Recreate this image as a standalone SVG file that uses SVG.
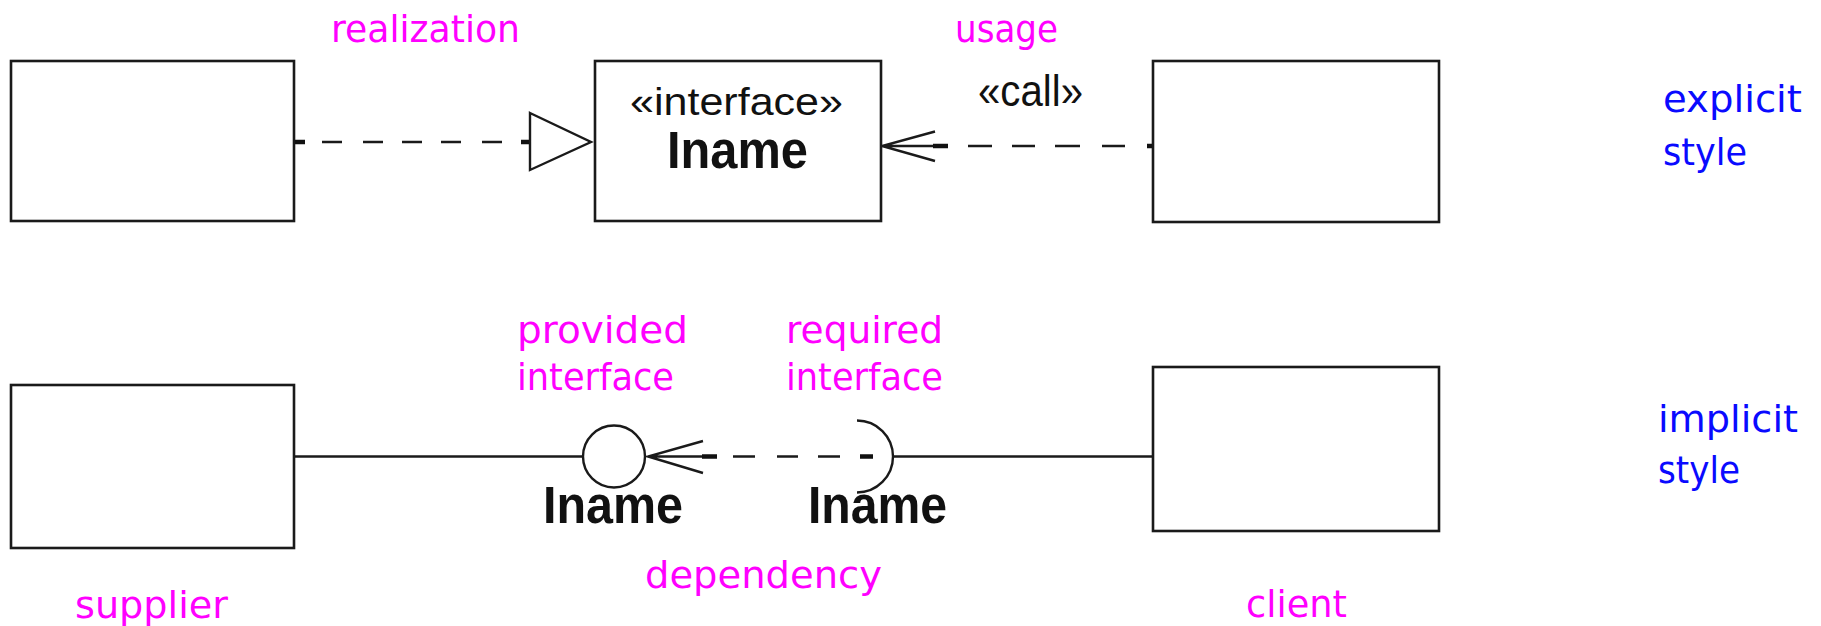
<svg xmlns="http://www.w3.org/2000/svg" width="1821" height="626" viewBox="0 0 1821 626">
<style>
  .box { fill: #fff; stroke: #1a1a1a; stroke-width: 2.6; }
  .ln { fill: none; stroke: #1a1a1a; stroke-width: 2.4; }
  .thick { fill: none; stroke: #111; stroke-width: 4.5; }
  .note { font-family: "DejaVu Sans", sans-serif; font-size: 38px; fill: #ff00ff; }
  .style { font-family: "DejaVu Sans", sans-serif; font-size: 38px; fill: #0a0aff; }
  .ster { font-family: "Liberation Sans", Arial, sans-serif; fill: #111; }
  .name { font-family: "Liberation Sans", Arial, sans-serif; font-weight: bold; font-size: 51px; fill: #111; }
</style>
<rect width="1821" height="626" fill="#fff"/>

<g id="connectors">
  <!-- realization: dashed line with hollow triangle -->
  <g id="realization">
    <path class="ln" d="M295 142 H531" stroke-dasharray="10 17 20 21 20 19 20 19 20 21 20 19 10"/>
    <path class="thick" d="M295 142 H305 M521 142 H531"/>
    <polygon points="530,113 591,142 530,170" fill="#fff" stroke="#1a1a1a" stroke-width="2.4"/>
  </g>
  <!-- usage: dashed line with open arrow -->
  <g id="usage">
    <path class="ln" d="M935 131.5 L882 146 L935 161 M882 146 H948"/>
    <path class="ln" d="M968 146 H992 M1012 146 H1035 M1055 146 H1080 M1102 146 H1125"/>
    <path class="thick" d="M933 146 H948 M1147 146 H1160"/>
  </g>
  <!-- implicit style: lollipop / socket -->
  <g id="assembly">
    <path class="ln" d="M294 456.5 H583"/>
    <path class="ln" d="M703 441 L648 456.5 L703 473 M648 456.5 H717"/>
    <path class="ln" d="M733 456.5 H755 M777 456.5 H798 M818 456.5 H840"/>
    <path class="thick" d="M702 456.5 H717 M860 456.5 H873"/>
    <path class="ln" d="M893 456.5 H1153"/>
  </g>
</g>

<g id="supplier-top">
  <rect class="box" x="11" y="61" width="283" height="160"/>
</g>
<g id="interface-box">
  <rect class="box" x="595" y="61" width="286" height="160"/>
  <text class="ster" x="630" y="115" font-size="38" textLength="213" lengthAdjust="spacingAndGlyphs">«interface»</text>
  <text class="name" x="667" y="168" textLength="141" lengthAdjust="spacingAndGlyphs">Iname</text>
</g>
<g id="client-top">
  <rect class="box" x="1153" y="61" width="286" height="161"/>
</g>
<g id="supplier">
  <rect class="box" x="11" y="385" width="283" height="163"/>
</g>
<g id="client">
  <rect class="box" x="1153" y="367" width="286" height="164"/>
</g>
<g id="provided-interface">
  <circle cx="614" cy="456.5" r="31" fill="#fff" stroke="#1a1a1a" stroke-width="2.4"/>
  <text class="name" x="543" y="523" textLength="140" lengthAdjust="spacingAndGlyphs">Iname</text>
</g>
<g id="required-interface">
  <path class="ln" d="M857 420.5 A36 36 0 0 1 857 492.5"/>
  <text class="name" x="808" y="523" textLength="139" lengthAdjust="spacingAndGlyphs">Iname</text>
</g>

<g id="labels">
  <text class="note" x="331" y="42" textLength="189" lengthAdjust="spacingAndGlyphs">realization</text>
  <text class="note" x="955" y="42" textLength="103" lengthAdjust="spacingAndGlyphs">usage</text>
  <text class="ster" x="978" y="106" font-size="45" textLength="105" lengthAdjust="spacingAndGlyphs">«call»</text>
  <text class="style" x="1663" y="112" textLength="139" lengthAdjust="spacingAndGlyphs">explicit</text>
  <text class="style" x="1663" y="165" textLength="84" lengthAdjust="spacingAndGlyphs">style</text>
  <text class="note" x="517" y="343" textLength="171" lengthAdjust="spacingAndGlyphs">provided</text>
  <text class="note" x="517" y="390" textLength="157" lengthAdjust="spacingAndGlyphs">interface</text>
  <text class="note" x="786" y="343" textLength="157" lengthAdjust="spacingAndGlyphs">required</text>
  <text class="note" x="786" y="390" textLength="157" lengthAdjust="spacingAndGlyphs">interface</text>
  <text class="style" x="1658" y="432" textLength="140" lengthAdjust="spacingAndGlyphs">implicit</text>
  <text class="style" x="1658" y="483" textLength="82" lengthAdjust="spacingAndGlyphs">style</text>
  <text class="note" x="645" y="588" textLength="237" lengthAdjust="spacingAndGlyphs">dependency</text>
  <text class="note" x="75" y="618" textLength="153" lengthAdjust="spacingAndGlyphs">supplier</text>
  <text class="note" x="1246" y="617" textLength="101" lengthAdjust="spacingAndGlyphs">client</text>
</g>
</svg>
